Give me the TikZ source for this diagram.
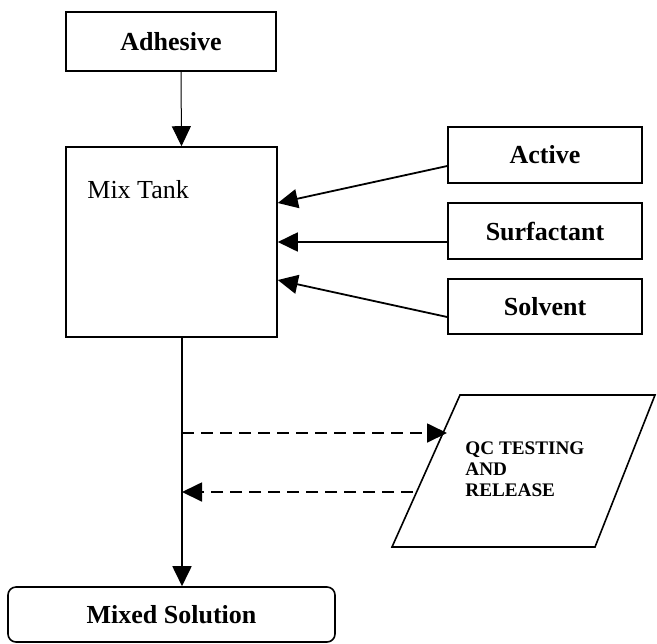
\documentclass[tikz,border=0pt]{standalone}
\usepackage{fontspec}
\setmainfont{Liberation Serif}
\usetikzlibrary{arrows.meta}
\begin{document}
\begin{tikzpicture}[x=0.5pt,y=-0.5pt,
  box/.style={draw,line width=0.8pt,inner sep=0pt,font=\fontsize{13}{15}\selectfont\bfseries},
  tip/.style={-{Triangle[length=10pt,width=9.5pt]}},
  conn/.style={line width=0.9pt,tip},
  dconn/.style={conn,dash pattern=on 6pt off 3.5pt},
  qctext/.style={font=\fontsize{9.6}{10.6}\selectfont\bfseries,align=left,inner sep=0pt}]
\useasboundingbox (0,0) rectangle (657,643);
\node[box,minimum width=105pt,minimum height=29.5pt] (adh) at (171,41.5) {Adhesive};
\node[box,minimum width=105.5pt,minimum height=95pt] (mix) at (171.5,242) {};
\node[anchor=base west,inner sep=0pt,font=\fontsize{13}{15}\selectfont] (mixlabel) at (87,198) {Mix Tank};
\node[box,minimum width=97pt,minimum height=28pt] (act) at (545,155) {Active};
\node[box,minimum width=97pt,minimum height=28pt] (surf) at (545,231) {Surfactant};
\node[box,minimum width=97pt,minimum height=27.5pt] (solv) at (545,306.5) {Solvent};
\node[box,rounded corners=4pt,minimum width=163.5pt,minimum height=27.5pt] (mixed) at (171.5,614.5) {Mixed Solution};
% parallelogram
\coordinate (p1) at (460,395);
\coordinate (p2) at (655,395);
\coordinate (p3) at (595,547);
\coordinate (p4) at (392,547);
\draw[line width=0.8pt] (p1) -- (p2) -- (p3) -- (p4) -- cycle;
\node[qctext,anchor=north west] (qc) at (465,441) {QC TESTING\\AND\\RELEASE};
% connectors
\draw[line width=0.5pt,tip] ([xshift=5pt]adh.south) -- ([xshift=5pt]mix.north);
\draw[conn] ([yshift=-5.5pt]act.west) -- ([yshift=19.5pt]mix.east);
\draw[conn] (surf.west |- mix.east) -- (mix.east);
\draw[conn] ([yshift=-5.25pt]solv.west) -- ([yshift=-19pt]mix.east);
\draw[conn] ([xshift=5.25pt]mix.south) -- ([xshift=5.25pt]mixed.north);
\coordinate (d1) at (182,433);
\coordinate (qin) at (447,433);
\coordinate (qout) at (413,492);
\coordinate (d2) at (182,492);
\draw[dconn] (d1) -- (qin);
\draw[dconn] (qout) -- (d2);
\end{tikzpicture}
\end{document}
